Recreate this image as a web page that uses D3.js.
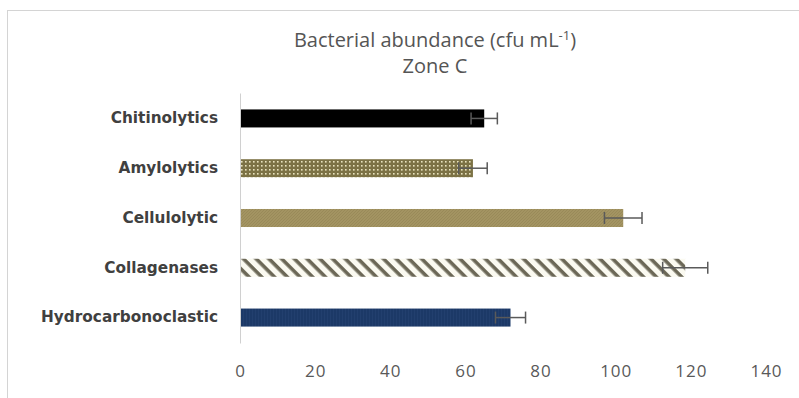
<!DOCTYPE html>
<html>
<head>
<meta charset="utf-8">
<script src="https://cdn.jsdelivr.net/npm/d3@7"></script>
<style>
  body { margin: 0; background: #fff; }
  svg { display: block; }
</style>
</head>
<body>
<div id="draw"></div>
<script>
// data
const categories = ["Chitinolytics", "Amylolytics", "Cellulolytic", "Collagenases", "Hydrocarbonoclastic"];
const values = [65, 62, 102, 118.5, 72];
const errors = [3.5, 3.8, 5, 6, 4];
const fills = ["black", "url(#dots)", "url(#fine)", "url(#stripes)", "url(#navy)"];
const ticks = [0, 20, 40, 60, 80, 100, 120, 140];

const w = 799, h = 398;

const svg = d3.select("#draw").append("svg")
    .attr("width", w)
    .attr("height", h);

svg.append("rect")
    .attr("width", w).attr("height", h)
    .style("fill", "#fff");

// patterns for the bars
const defs = svg.append("defs");

const dots = defs.append("pattern").attr("id", "dots")
    .attr("patternUnits", "userSpaceOnUse").attr("width", 4).attr("height", 4);
dots.append("rect").attr("width", 4).attr("height", 4).style("fill", "#7c7245");
dots.append("rect").attr("x", 1).attr("y", 1).attr("width", 1.6).attr("height", 1.6).style("fill", "#e9e3be");

const fine = defs.append("pattern").attr("id", "fine")
    .attr("patternUnits", "userSpaceOnUse").attr("width", 3).attr("height", 3);
fine.append("rect").attr("width", 3).attr("height", 3).style("fill", "#a39462");
fine.append("path").attr("d", "M0,3 L3,0").style("stroke", "#978857").style("stroke-width", 0.8);

const stripes = defs.append("pattern").attr("id", "stripes")
    .attr("patternUnits", "userSpaceOnUse").attr("width", 9).attr("height", 9)
    .attr("patternTransform", "rotate(45)");
stripes.append("rect").attr("width", 9).attr("height", 9).style("fill", "#fbfaf1");
stripes.append("rect").attr("width", 9).attr("height", 3.6).style("fill", "#6c6857");

const navy = defs.append("pattern").attr("id", "navy")
    .attr("patternUnits", "userSpaceOnUse").attr("width", 3).attr("height", 3);
navy.append("rect").attr("width", 3).attr("height", 3).style("fill", "#1c3967");
navy.append("rect").attr("width", 1).attr("height", 3).style("fill", "#223f6e");

// outer frame
svg.append("rect")
    .attr("x", 7.5).attr("y", 10.5)
    .attr("width", w).attr("height", h)
    .style("fill", "none")
    .style("stroke", "#d4d4d4");

// title
const title = svg.append("text")
    .attr("x", 435).attr("y", 47)
    .attr("text-anchor", "middle")
    .style("font-family", "'Open Sans', sans-serif")
    .style("font-size", "20px")
    .style("fill", "#555");
title.append("tspan").text("Bacterial abundance (cfu mL");
title.append("tspan").attr("dy", -7).style("font-size", "13px").text("-1");
title.append("tspan").attr("dy", 7).text(")");

svg.append("text")
    .attr("x", 435).attr("y", 73)
    .attr("text-anchor", "middle")
    .style("font-family", "'Open Sans', sans-serif")
    .style("font-size", "20px")
    .style("fill", "#555")
    .text("Zone C");

// scales
const x = d3.scaleLinear().domain([0, 140]).range([240, 766]);
const y = d3.scaleBand().domain(categories).range([93, 343]).paddingInner(0.638).paddingOuter(0.33);

// x axis labels only, no line
const xAxis = svg.append("g")
    .attr("transform", "translate(0,365)")
    .call(d3.axisBottom(x).tickValues(ticks).tickSize(0).tickPadding(0));
xAxis.select(".domain").remove();
xAxis.selectAll("text")
    .attr("dy", "0.71em")
    .style("font-family", "'Open Sans', sans-serif")
    .style("font-size", "17px")
    .style("letter-spacing", "1px")
    .style("fill", "#595959");

// y axis
const yAxis = svg.append("g")
    .attr("transform", "translate(240,0)")
    .call(d3.axisLeft(y).tickSize(0).tickPadding(22));
yAxis.select(".domain")
    .style("stroke", "#d0d0d0");
yAxis.selectAll("text")
    .style("font-family", "'DejaVu Sans', sans-serif")
    .style("font-weight", "bold")
    .style("font-size", "15.3px")
    .style("fill", "#404040");

// bars
svg.selectAll(".bar")
    .data(categories)
    .enter().append("rect")
    .attr("class", "bar")
    .attr("x", x(0) + 1)
    .attr("y", d => y(d))
    .attr("width", (d, i) => x(values[i]) - x(0) - 1)
    .attr("height", y.bandwidth())
    .style("fill", (d, i) => fills[i]);

// error bars
const err = svg.selectAll(".err")
    .data(categories)
    .enter().append("g")
    .attr("class", "err")
    .style("stroke", "#5a5a5a")
    .style("stroke-width", 1.5);
err.append("line")
    .attr("x1", (d, i) => x(values[i] - errors[i]))
    .attr("x2", (d, i) => x(values[i] + errors[i]))
    .attr("y1", d => y(d) + y.bandwidth() / 2)
    .attr("y2", d => y(d) + y.bandwidth() / 2);
err.append("line")
    .attr("x1", (d, i) => x(values[i] - errors[i]))
    .attr("x2", (d, i) => x(values[i] - errors[i]))
    .attr("y1", d => y(d) + y.bandwidth() / 2 - 6)
    .attr("y2", d => y(d) + y.bandwidth() / 2 + 6);
err.append("line")
    .attr("x1", (d, i) => x(values[i] + errors[i]))
    .attr("x2", (d, i) => x(values[i] + errors[i]))
    .attr("y1", d => y(d) + y.bandwidth() / 2 - 6)
    .attr("y2", d => y(d) + y.bandwidth() / 2 + 6);
</script>
</body>
</html>
